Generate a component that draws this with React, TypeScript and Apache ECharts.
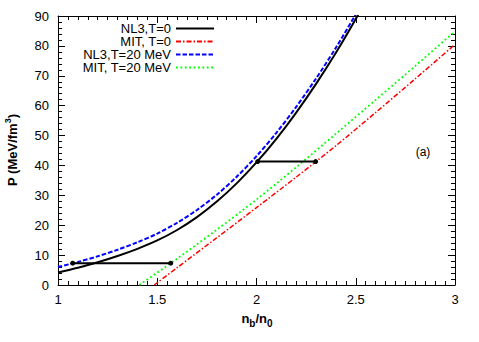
import React, { useEffect, useRef } from "react";
import * as echarts from "echarts";

// NL3, T=0 (black solid)
const nNL3T0 = [1.0, 1.1, 1.2, 1.3, 1.4, 1.5, 1.6, 1.7, 1.8, 1.9, 2.0, 2.1, 2.2, 2.3, 2.4, 2.5, 2.6];
const pNL3T0 = [4.2, 5.8, 7.6, 9.7, 12.1, 14.9, 18.4, 22.7, 27.9, 34.0, 41.0, 48.9, 57.7, 67.3, 77.7, 89.0, 101.0];
// NL3, T=20 MeV (blue dashed)
const nNL3T20 = [1.0, 1.1, 1.2, 1.3, 1.4, 1.5, 1.6, 1.7, 1.8, 1.9, 2.0, 2.1, 2.2, 2.3, 2.4, 2.5, 2.6];
const pNL3T20 = [6.0, 7.7, 9.6, 11.8, 14.3, 17.2, 20.8, 25.1, 30.2, 36.2, 43.1, 50.9, 59.6, 69.1, 79.4, 90.6, 102.6];
// MIT, T=0 (red dash-dot)
const nMITT0 = [1.485, 1.6, 1.8, 2.0, 2.2, 2.4, 2.6, 2.8, 3.0];
const pMITT0 = [0, 5.8, 15.8, 25.9, 36.1, 46.6, 57.7, 69.0, 80.5];
// MIT, T=20 MeV (green dotted)
const nMITT20 = [1.41, 1.6, 1.8, 2.0, 2.2, 2.4, 2.6, 2.8, 3.0];
const pMITT20 = [0, 8.8, 18.5, 28.6, 39.4, 50.6, 61.9, 73.3, 84.9];
// Mixed-phase (Maxwell) lines
const mixedT20N = [1.074, 1.568];
const mixedT20P = [7.3, 7.3];
const mixedT0N = [2.006, 2.298];
const mixedT0P = [41.3, 41.3];

const legendNames = ["NL3,T=0", "MIT, T=0", "NL3,T=20 MeV", "MIT, T=20 MeV"];
const xTicks = { min: 1, max: 3, interval: 0.5 };
const yTicks = { min: 0, max: 90, interval: 10 };

const zip = (a: number[], b: number[]) => a.map((v, i) => [v, b[i]]);

const FONT = "Liberation Sans";

export default function App() {
  const ref = useRef<HTMLDivElement>(null);
  useEffect(() => {
    if (!ref.current) return;
    const chart = echarts.init(ref.current, undefined, { renderer: "svg" });
    const axisCommon = {
      axisLine: { show: true, onZero: false, lineStyle: { color: "#000", width: 1 } },
      axisTick: { show: true, inside: true, length: 7, lineStyle: { color: "#000", width: 1 } },
      minorTick: { show: true, length: 4, lineStyle: { color: "#000", width: 1 } },
      splitLine: { show: false },
      minorSplitLine: { show: false },
    };
    const xCommon = { type: "value", ...xTicks, ...axisCommon, minorTick: { ...axisCommon.minorTick, splitNumber: 10 } };
    const yCommon = { type: "value", ...yTicks, ...axisCommon, minorTick: { ...axisCommon.minorTick, splitNumber: 5 } };
    const labelStyle = { color: "#000", fontSize: 13, fontFamily: FONT };
    chart.setOption({
      animation: false,
      grid: { left: 58, right: 24, top: 16, bottom: 57, containLabel: false },
      xAxis: [
        { ...xCommon, position: "bottom", axisLabel: { ...labelStyle, margin: 8, formatter: (v: number) => String(v) } },
        { ...xCommon, position: "top", axisLabel: { show: false } },
      ],
      yAxis: [
        { ...yCommon, position: "left", axisLabel: { ...labelStyle, margin: 9 } },
        { ...yCommon, position: "right", axisLabel: { show: false } },
      ],
      legend: {
        data: legendNames,
        orient: "vertical",
        align: "right",
        right: 264,
        top: 22,
        padding: 0,
        itemGap: 0,
        itemWidth: 38,
        itemHeight: 10,
        itemStyle: { opacity: 0 },
        textStyle: { color: "#000", fontSize: 13, fontFamily: FONT, lineHeight: 13 },
        selectedMode: false,
      },
      series: [
        {
          name: legendNames[0], type: "line", data: zip(nNL3T0, pNL3T0), smooth: 0.3, symbol: "none",
          lineStyle: { color: "#000", width: 2, type: "solid" }, itemStyle: { color: "#000" }, z: 4,
        },
        {
          name: legendNames[1], type: "line", data: zip(nMITT0, pMITT0), smooth: 0.3, symbol: "none",
          lineStyle: { color: "#ff0000", width: 1.5, type: [5, 2, 1.5, 2] }, itemStyle: { color: "#ff0000" }, z: 3,
        },
        {
          name: legendNames[2], type: "line", data: zip(nNL3T20, pNL3T20), smooth: 0.3, symbol: "none",
          lineStyle: { color: "#0000ff", width: 2, type: [4.5, 2] }, itemStyle: { color: "#0000ff" }, z: 3,
        },
        {
          name: legendNames[3], type: "line", data: zip(nMITT20, pMITT20), smooth: 0.3, symbol: "none",
          lineStyle: { color: "#00ff00", width: 1.8, type: [1.8, 2.6] }, itemStyle: { color: "#00ff00" }, z: 3,
        },
        {
          name: "mixedT20", type: "line", data: zip(mixedT20N, mixedT20P), symbol: "circle", symbolSize: 5,
          lineStyle: { color: "#000", width: 2 }, itemStyle: { color: "#000" }, z: 5,
        },
        {
          name: "mixedT0", type: "line", data: zip(mixedT0N, mixedT0P), symbol: "circle", symbolSize: 5,
          lineStyle: { color: "#000", width: 2 }, itemStyle: { color: "#000" }, z: 5,
        },
      ],
      graphic: [
        {
          type: "text", x: 11, y: 150, rotation: Math.PI / 2,
          style: {
            text: "{a|P (MeV/fm}{s|3}{a|)}",
            textAlign: "center", textVerticalAlign: "middle", align: "center", verticalAlign: "middle",
            fill: "#000",
            rich: {
              a: { fontSize: 13, fontWeight: "bold", fontFamily: FONT, lineHeight: 16, verticalAlign: "bottom", fill: "#000" },
              s: { fontSize: 9, fontWeight: "bold", fontFamily: FONT, lineHeight: 6, verticalAlign: "top", fill: "#000" },
            },
          },
        },
        {
          type: "text", x: 257, y: 320,
          style: {
            text: "{a|n}{s|b}{a|/n}{s|0}",
            textAlign: "center", textVerticalAlign: "middle", align: "center", verticalAlign: "middle",
            fill: "#000",
            rich: {
              a: { fontSize: 13, fontWeight: "bold", fontFamily: FONT, lineHeight: 16, verticalAlign: "top", fill: "#000" },
              s: { fontSize: 10, fontWeight: "bold", fontFamily: FONT, lineHeight: 6, verticalAlign: "bottom", fill: "#000" },
            },
          },
        },
        {
          type: "text", x: 423, y: 152,
          style: {
            text: "(a)", fontSize: 12, fontFamily: FONT, fill: "#000",
            textAlign: "center", textVerticalAlign: "middle", align: "center", verticalAlign: "middle",
          },
        },
      ],
    });
    return () => chart.dispose();
  }, []);
  return <div ref={ref} style={{ width: 479, height: 342, position: "absolute", left: 0, top: 0 }} />;
}
